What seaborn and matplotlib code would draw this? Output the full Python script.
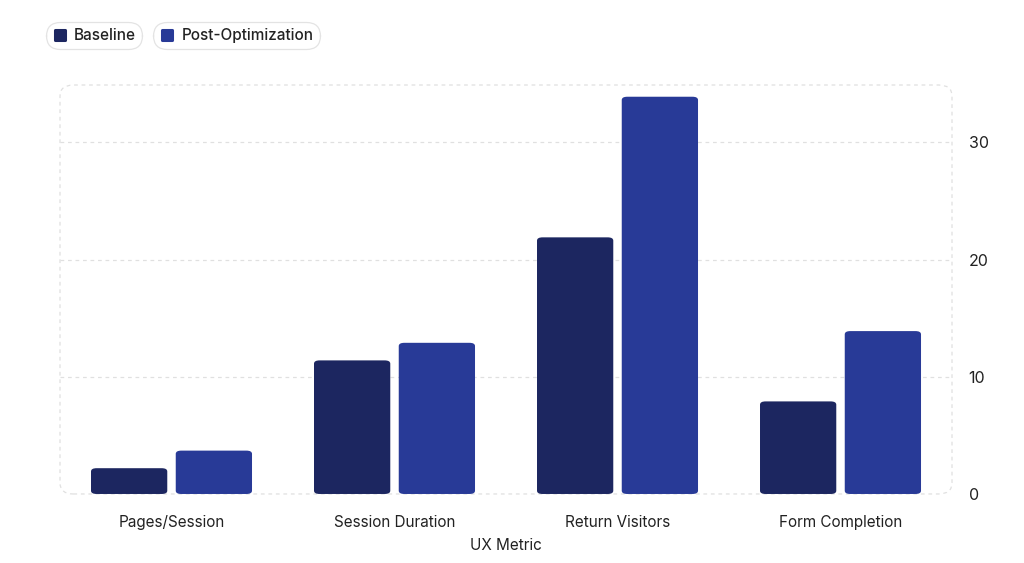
import matplotlib
matplotlib.use("Agg")
import matplotlib.pyplot as plt
import seaborn as sns
import pandas as pd
from matplotlib.patches import FancyBboxPatch
from matplotlib.lines import Line2D
from matplotlib.markers import MarkerStyle

# =========================
# DATA
# =========================
metrics = ["Pages/Session", "Session Duration", "Return Visitors", "Form Completion"]
baseline = [2.2, 11.4, 21.9, 7.9]
post_opt = [3.7, 12.9, 33.9, 13.9]
series_names = ["Baseline", "Post-Optimization"]
colors = ["#1c2660", "#283a97"]

df = pd.DataFrame({
    "UX Metric": metrics * 2,
    "Value": baseline + post_opt,
    "Series": [series_names[0]] * len(metrics) + [series_names[1]] * len(metrics),
})

# =========================
# PLOT
# =========================
sns.set_style("white")
plt.rcParams["font.family"] = ["Inter", "DejaVu Sans"]

fig = plt.figure(figsize=(10.24, 5.63), dpi=100)
ax = fig.add_axes([0.0586, 0.1226, 0.8711, 0.7264])

sns.barplot(data=df, x="UX Metric", y="Value", hue="Series",
            palette=colors, saturation=1, width=0.76, gap=0.1,
            ax=ax, legend=False)

# rounded bars
for p in list(ax.patches):
    x, y = p.get_x(), p.get_y()
    w, h = p.get_width(), p.get_height()
    fb = FancyBboxPatch((x, y), w, h,
                        boxstyle="round,pad=0,rounding_size=0.025",
                        mutation_aspect=11.0,
                        facecolor=p.get_facecolor(), edgecolor="none", zorder=3)
    p.remove()
    ax.add_patch(fb)

ax.set_xlim(-0.5, 3.5)
ax.set_ylim(0, 34.9)
ax.set_yticks([0, 10, 20, 30])
ax.yaxis.tick_right()
ax.tick_params(axis="y", length=0, pad=12, labelsize=11.5, colors="#222222")
ax.tick_params(axis="x", length=7, width=0.8, color="#e2e2e2", pad=8,
               labelsize=11, labelcolor="#222222")

for t in [10, 20, 30]:
    ax.axhline(t, color="#e0e0e0", linestyle=(0, (3, 3)), linewidth=0.9, zorder=0)

for s in ax.spines.values():
    s.set_visible(False)

frame = FancyBboxPatch((0, 0), 1, 1, transform=ax.transAxes,
                       boxstyle="round,pad=0,rounding_size=0.015",
                       mutation_aspect=1.8,
                       facecolor="none", edgecolor="#e0e0e0",
                       linestyle=(0, (3, 3)), linewidth=0.9, zorder=1,
                       clip_on=False)
ax.add_patch(frame)

ax.set_xlabel("UX Metric", fontsize=11, color="#222222", labelpad=6)
ax.set_ylabel("")

# =========================
# LEGEND (pill boxes)
# =========================
xs = [0.047, 0.152]
for name, c, x0 in zip(series_names, colors, xs):
    h = [Line2D([0], [0], marker=MarkerStyle("s", joinstyle="round"),
                linestyle="none", markersize=6.5, markeredgewidth=2.2,
                markerfacecolor=c, markeredgecolor=c)]
    leg = fig.legend(h, [name], loc="upper left", bbox_to_anchor=(x0, 0.957),
                     frameon=True, prop={"size": 11, "weight": "medium"},
                     handletextpad=0.45, borderpad=0.25, handlelength=1.0,
                     borderaxespad=0)
    fr = leg.get_frame()
    fr.set_boxstyle("round", pad=0.15, rounding_size=0.9)
    fr.set_edgecolor("#dddddd")
    fr.set_linewidth(0.9)
    for t in leg.get_texts():
        t.set_color("#222222")

plt.savefig("out.png", dpi=100)
